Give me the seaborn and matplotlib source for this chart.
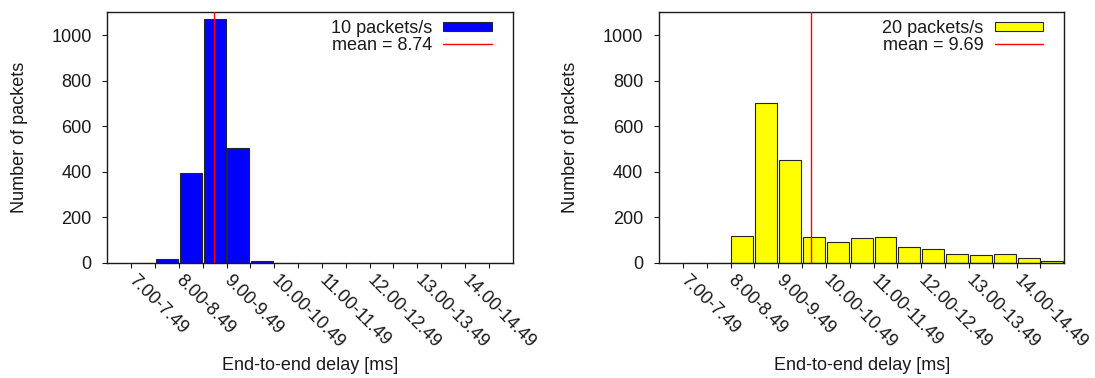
import matplotlib
matplotlib.use("Agg")
import matplotlib.pyplot as plt
from matplotlib.patches import Patch
from matplotlib.lines import Line2D
import numpy as np
import pandas as pd
import seaborn as sns

# Delay histogram bins (left edge of each 0.5 ms bin, in ms)
bin_starts = [7.00, 7.50, 8.00, 8.50, 9.00, 9.50, 10.00, 10.50,
              11.00, 11.50, 12.00, 12.50, 13.00, 13.50, 14.00, 14.50]
bin_width = 0.5

# Packet counts per bin for each sending rate
counts_10 = [0, 18, 393, 1070, 502, 8, 0, 0, 0, 0, 0, 0, 0, 0, 0, 0]
counts_20 = [0, 0, 117, 700, 450, 114, 92, 107, 111, 67, 60, 40, 35, 38, 20, 9]

mean_10 = 8.74
mean_20 = 9.69

# Tick labels on whole-millisecond bins only
tick_labels = ["7.00-7.49", "", "8.00-8.49", "", "9.00-9.49", "", "10.00-10.49", "",
               "11.00-11.49", "", "12.00-12.49", "", "13.00-13.49", "", "14.00-14.49", ""]

series = [
    ("10 packets/s", counts_10, mean_10, "#0000ff"),
    ("20 packets/s", counts_20, mean_20, "#ffff00"),
]

sns.set_style("ticks")
plt.rcParams["font.family"] = ["Liberation Sans", "DejaVu Sans"]
plt.rcParams["text.color"] = "#1a1a1a"
plt.rcParams["axes.labelcolor"] = "#1a1a1a"
plt.rcParams["xtick.color"] = "#1a1a1a"
plt.rcParams["ytick.color"] = "#1a1a1a"

W, H = 1095, 378
fig = plt.figure(figsize=(W / 100, H / 100), dpi=100)
fig.patch.set_facecolor("white")

axes_px = [(107.3, 12.3, 512.7, 262.7), (659.0, 12.3, 1064.3, 262.7)]

lo = bin_starts[0]
hi = bin_starts[-1] + bin_width

for (label, counts, mean, color), (x0, y0, x1, y1) in zip(series, axes_px):
    ax = fig.add_axes([x0 / W, (H - y1) / H, (x1 - x0) / W, (y1 - y0) / H])
    df = pd.DataFrame({"delay": np.array(bin_starts) + bin_width / 2,
                       "packets": counts})
    sns.histplot(data=df, x="delay", weights="packets", binwidth=bin_width,
                 binrange=(lo, hi), shrink=0.92,
                 color=color, edgecolor="#262626", linewidth=0.8, alpha=1.0,
                 ax=ax)
    ax.axvline(mean, color="#ff0000", linewidth=1.0, zorder=5)

    ax.set_xlim(6.5, 15.0)
    ax.set_ylim(0, 1100)
    ax.set_yticks([0, 200, 400, 600, 800, 1000])
    ax.set_xticks(bin_starts)
    ax.set_xticklabels(tick_labels, rotation=-45, ha="left", va="center",
                       rotation_mode="anchor")
    ax.tick_params(axis="both", labelsize=13, length=3.8, width=0.8,
                   direction="out", top=False, right=False)
    ax.tick_params(axis="x", pad=7.0)
    ax.tick_params(axis="y", pad=7.5)
    for sp in ax.spines.values():
        sp.set_visible(True)
        sp.set_color("#1a1a1a")
        sp.set_linewidth(1.0)

    ax.set_xlabel("End-to-end delay [ms]", fontsize=13, labelpad=4)
    ax.set_ylabel("Number of packets", fontsize=13, labelpad=17)

    handles = [
        Patch(facecolor=color, edgecolor="#262626", linewidth=0.8),
        Line2D([], [], color="#ff0000", linewidth=1.0),
    ]
    ax.legend(handles, [label, f"mean = {mean:.2f}"], loc="upper right",
              bbox_to_anchor=(1 - 21 / 405.4, 1 - 7.7 / 250.4),
              frameon=False, markerfirst=False, fontsize=13,
              handlelength=2.7, handleheight=0.45, handletextpad=0.6,
              labelspacing=0.0, borderpad=0, borderaxespad=0)

fig.savefig("out.png", dpi=100, facecolor="white")
